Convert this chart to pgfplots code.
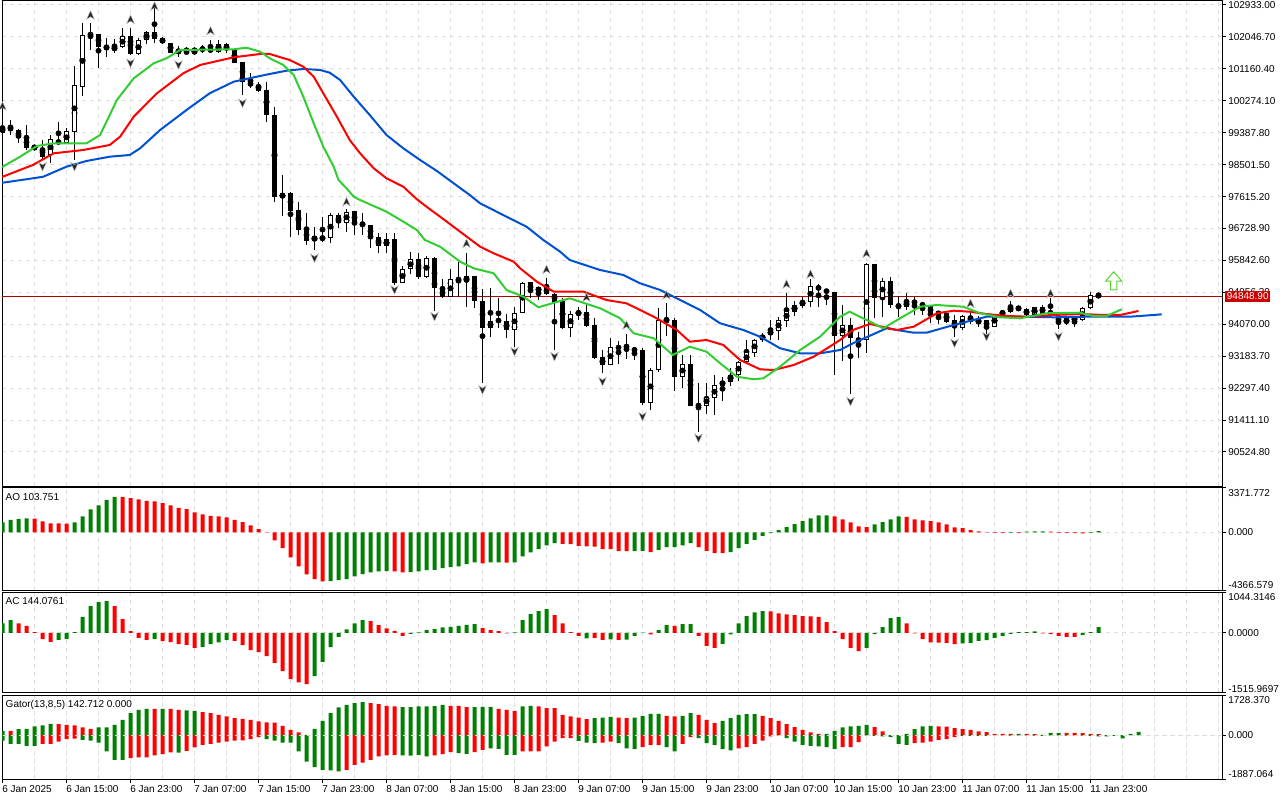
\documentclass[border=0pt]{standalone}
\usepackage{fontspec}
\setmainfont{Liberation Sans}
\usepackage{pgfplots}
\usepackage{pgfplotstable}
\pgfplotsset{compat=1.18}
\newcommand\lbl{\fontsize{7.5}{9}\selectfont}
\definecolor{mtgreen}{RGB}{0,128,0}
\definecolor{mtred}{RGB}{255,0,0}
\definecolor{jaw}{RGB}{0,80,210}
\definecolor{teeth}{RGB}{255,0,0}
\definecolor{lips}{RGB}{50,205,50}
\definecolor{gridc}{RGB}{222,222,222}
\definecolor{pline}{RGB}{180,0,0}
\definecolor{pbox}{RGB}{204,0,0}
\definecolor{buyg}{RGB}{90,210,50}

\pgfdeclareplotmark{fup}{%
 \pgfpathmoveto{\pgfqpoint{0pt}{\pgfplotmarksize}}%
 \pgfpathlineto{\pgfqpoint{0.9\pgfplotmarksize}{-\pgfplotmarksize}}%
 \pgfpathlineto{\pgfqpoint{0pt}{-0.4\pgfplotmarksize}}%
 \pgfpathlineto{\pgfqpoint{-0.9\pgfplotmarksize}{-\pgfplotmarksize}}%
 \pgfpathclose\pgfusepathqfillstroke}
\pgfdeclareplotmark{fdown}{%
 \pgfpathmoveto{\pgfqpoint{0pt}{-\pgfplotmarksize}}%
 \pgfpathlineto{\pgfqpoint{0.9\pgfplotmarksize}{\pgfplotmarksize}}%
 \pgfpathlineto{\pgfqpoint{0pt}{0.4\pgfplotmarksize}}%
 \pgfpathlineto{\pgfqpoint{-0.9\pgfplotmarksize}{\pgfplotmarksize}}%
 \pgfpathclose\pgfusepathqfillstroke}
\pgfdeclareplotmark{buyarrow}{%
 \pgfpathmoveto{\pgfqpoint{0pt}{1.15\pgfplotmarksize}}%
 \pgfpathlineto{\pgfqpoint{\pgfplotmarksize}{0pt}}%
 \pgfpathlineto{\pgfqpoint{0.4\pgfplotmarksize}{0pt}}%
 \pgfpathlineto{\pgfqpoint{0.4\pgfplotmarksize}{-1.1\pgfplotmarksize}}%
 \pgfpathlineto{\pgfqpoint{-0.4\pgfplotmarksize}{-1.1\pgfplotmarksize}}%
 \pgfpathlineto{\pgfqpoint{-0.4\pgfplotmarksize}{0pt}}%
 \pgfpathlineto{\pgfqpoint{-\pgfplotmarksize}{0pt}}%
 \pgfpathclose\pgfusepathqfillstroke}

\pgfplotstableread{
k O H L C
0 99388 99685 99352 99538
1 99547 99741 99333 99455
2 99463 99483 99111 99249
3 99269 99594 98908 98972
4 98972 99019 98936 98986
5 98972 99186 98630 98722
6 98769 99324 98547 99205
7 99186 99694 99047 99075
8 99094 99519 99075 99427
9 99416 101240 98630 100712
10 100665 102442 100407 102100
11 102136 102442 101684 102092
12 102136 102136 101193 101776
13 101795 102025 101498 101703
14 101703 101981 101592 101759
15 101759 102286 101731 102073
16 102081 102286 101545 101565
17 101573 102009 101545 101953
18 101962 102211 101851 102184
19 102175 102933 101870 101998
20 102017 102053 101842 101870
21 101887 101887 101592 101609
22 101684 101795 101490 101620
23 101665 101776 101573 101592
24 101592 101776 101573 101684
25 101740 101823 101592 101684
26 101731 101962 101592 101637
27 101637 101962 101592 101851
28 101859 101870 101609 101684
29 101712 101731 101315 101331
30 101359 101359 100435 100804
31 100804 101037 100621 100685
32 100712 100804 100526 100554
33 100574 100804 99694 99880
34 99880 100093 97456 97612
35 97595 98214 97076 97687
36 97706 97750 96501 97223
37 97242 97473 96548 96687
38 96707 97151 96271 96390
39 96410 96779 96132 96485
40 96446 97040 96362 96474
41 96457 97151 96335 97104
42 97104 97151 96734 96890
43 96890 97262 96640 97195
44 97223 97223 96548 96846
45 96862 97151 96548 96818
46 96826 96826 96179 96485
47 96501 96596 96057 96251
48 96243 96612 96040 96429
49 96429 96612 95160 95224
50 95224 95688 95207 95596
51 95596 96085 95466 95874
52 95874 96057 95319 95374
53 95374 95965 95346 95902
54 95902 95929 94447 95069
55 95069 95327 94791 94819
56 94819 95596 94819 95319
57 95327 95807 94819 95235
58 95235 96040 94558 95419
59 95419 95419 94514 94725
60 94725 95050 92432 93958
61 93958 95069 93709 94169
62 94189 94791 93958 94161
63 94169 94355 93681 93911
64 93911 94541 93448 94391
65 94391 95252 94375 95224
66 95235 95235 94791 94975
67 94975 95113 94744 95097
68 95097 95346 94883 94911
69 94911 94930 93356 94697
70 94744 94791 93931 93958
71 93958 94447 93725 94355
72 94355 94558 94189 94419
73 94419 94661 94003 94031
74 94050 94236 93106 93142
75 93153 93356 92709 92940
76 92940 93681 92940 93431
77 93448 93614 92968 93403
78 93403 93800 93106 93356
79 93384 93448 93078 93337
80 93356 93403 91829 91893
81 91893 92848 91690 92801
82 92801 94514 92754 94189
83 94189 94652 93745 94161
84 94189 94236 92226 92615
85 92615 93217 92309 92959
86 92968 93217 91810 91810
87 91829 92432 91088 91801
88 91810 92432 91579 92060
89 92015 92662 91551 92384
90 92365 92615 91949 92496
91 92476 92848 92357 92662
92 92662 93059 92504 93015
93 93015 93634 92987 93292
94 93281 93653 93170 93634
95 93634 93836 93586 93772
96 93772 94189 93634 93911
97 93892 94280 93634 94189
98 94169 94930 94003 94439
99 94419 94725 94300 94605
100 94586 94836 94514 94716
101 94697 95319 94558 95133
102 95141 95188 94558 95022
103 95022 95041 94605 94958
104 94975 94975 92662 93753
105 93753 94605 93059 94050
106 94050 94236 92135 93681
107 93681 93864 93126 93586
108 93634 95763 93264 95743
109 95743 95743 94236 94791
110 94791 95346 94280 95280
111 95280 95391 94514 94605
112 94605 94855 94280 94558
113 94558 94930 94466 94697
114 94716 94836 94328 94652
115 94669 94697 94328 94558
116 94577 94605 94097 94355
117 94391 94447 94078 94355
118 94375 94447 94097 94142
119 94189 94328 93725 93986
120 93975 94328 93911 94300
121 94300 94411 94078 94125
122 94125 94300 93986 94189
123 94189 94189 93800 93986
124 93986 94355 93986 94355
125 94328 94466 94264 94447
126 94419 94725 94375 94558
127 94558 94577 94447 94466
128 94494 94514 94300 94328
129 94328 94558 94300 94558
130 94558 94605 94328 94355
131 94411 94791 94355 94375
132 94300 94328 93931 94097
133 94097 94264 94050 94236
134 94189 94280 94003 94236
135 94189 94558 94161 94514
136 94514 94975 94494 94883
137 94883 94930 94819 94849
}\candles

\pgfplotstableread{
k v c
0 759 1
1 961 1
2 1037 1
3 1063 1
4 1050 0
5 835 0
6 683 0
7 680 0
8 675 0
9 759 1
10 1214 1
11 1746 1
12 2049 1
13 2479 1
14 2707 1
15 2700 0
16 2606 0
17 2505 0
18 2404 0
19 2353 0
20 2226 0
21 2049 0
22 1872 0
23 1771 0
24 1518 0
25 1366 0
26 1265 0
27 1214 0
28 1138 0
29 961 0
30 784 0
31 531 0
32 253 0
33 30 0
34 -607 0
35 -1189 0
36 -1897 0
37 -2581 0
38 -3188 0
39 -3542 0
40 -3719 0
41 -3694 1
42 -3618 1
43 -3542 1
44 -3340 1
45 -3163 1
46 -3036 1
47 -2960 1
48 -2935 1
49 -2945 0
50 -3036 0
51 -3010 1
52 -2960 1
53 -2859 1
54 -2834 1
55 -2707 1
56 -2631 1
57 -2581 1
58 -2404 1
59 -2277 1
60 -2353 0
61 -2277 1
62 -2265 1
63 -2290 0
64 -2275 1
65 -1822 1
66 -1518 1
67 -1265 1
68 -987 1
69 -810 1
70 -860 0
71 -885 0
72 -1012 0
73 -1063 0
74 -1070 0
75 -1265 0
76 -1270 0
77 -1417 0
78 -1420 0
79 -1410 1
80 -1400 1
81 -1493 0
82 -1316 1
83 -1113 1
84 -1105 1
85 -987 1
86 -810 1
87 -1113 0
88 -1392 0
89 -1569 0
90 -1575 0
91 -1493 1
92 -1189 1
93 -860 1
94 -557 1
95 -253 1
96 -50 1
97 177 1
98 405 1
99 633 1
100 860 1
101 1063 1
102 1290 1
103 1300 1
104 1214 0
105 987 0
106 759 0
107 455 0
108 405 0
109 607 1
110 784 1
111 987 1
112 1214 1
113 1189 0
114 987 0
115 911 0
116 860 0
117 759 0
118 607 0
119 380 0
120 329 0
121 177 0
122 76 0
123 30 0
124 -40 0
125 -60 0
126 -30 1
127 -50 0
128 60 1
129 80 1
130 90 1
131 60 0
132 -40 0
133 -50 0
134 -60 0
135 -70 0
136 -30 1
137 103.751 1
}\aotab

\pgfplotstableread{
k v c
0 239 1
1 324 1
2 239 0
3 179 0
4 17 0
5 -162 0
6 -230 0
7 -179 1
8 -162 1
9 17 1
10 409 1
11 682 1
12 785 1
13 810 1
14 682 0
15 350 0
16 43 0
17 -128 0
18 -179 0
19 -162 1
20 -213 0
21 -239 0
22 -290 0
23 -307 0
24 -384 0
25 -358 1
26 -290 1
27 -247 1
28 -179 1
29 -205 0
30 -316 0
31 -444 0
32 -495 0
33 -597 0
34 -768 0
35 -981 0
36 -1186 0
37 -1271 0
38 -1314 0
39 -1109 1
40 -742 1
41 -367 1
42 -102 1
43 85 1
44 239 1
45 324 1
46 299 0
47 196 0
48 111 0
49 51 0
50 -77 0
51 -26 1
52 9 1
53 68 1
54 94 1
55 136 1
56 154 1
57 179 1
58 205 1
59 222 1
60 119 0
61 68 0
62 43 0
63 -15 0
64 10 1
65 324 1
66 478 1
67 554 1
68 606 1
69 452 0
70 239 0
71 17 0
72 -77 0
73 -145 1
74 -128 0
75 -179 0
76 -170 1
77 -180 0
78 -175 1
79 -77 1
80 5 1
81 -43 0
82 68 1
83 196 1
84 179 0
85 222 1
86 225 1
87 -77 0
88 -333 0
89 -384 0
90 -282 1
91 -43 1
92 239 1
93 427 1
94 520 1
95 554 1
96 550 0
97 495 0
98 469 0
99 452 0
100 427 0
101 420 0
102 409 0
103 273 0
104 43 0
105 -162 0
106 -384 0
107 -469 0
108 -384 1
109 -34 1
110 145 1
111 375 1
112 401 1
113 239 0
114 -17 0
115 -162 0
116 -247 0
117 -250 0
118 -256 0
119 -290 0
120 -273 1
121 -256 1
122 -205 1
123 -188 1
124 -128 1
125 -77 1
126 -26 1
127 17 1
128 20 1
129 34 1
130 -17 0
131 -34 0
132 -77 0
133 -102 0
134 -105 0
135 -60 1
136 17 1
137 144.0761 1
}\actab

\pgfplotstableread{
k u uc d dc
0 187 1 -230 1
1 180 0 -373 1
2 258 1 -380 1
3 273 1 -459 1
4 373 1 -465 1
5 416 1 -373 0
6 488 1 -370 0
7 480 0 -273 0
8 445 0 -172 0
9 416 0 -144 0
10 330 0 -201 1
11 273 0 -230 1
12 330 1 -316 1
13 335 1 -703 1
14 445 1 -1062 1
15 660 1 -1065 1
16 947 1 -990 0
17 1091 1 -961 0
18 1134 1 -955 0
19 1130 0 -875 0
20 1134 1 -818 0
21 1130 0 -746 0
22 1091 0 -750 1
23 1062 1 -674 0
24 1048 1 -531 0
25 990 0 -416 0
26 947 0 -373 0
27 875 0 -316 0
28 804 0 -273 0
29 732 0 -230 0
30 703 0 -225 0
31 660 0 -172 0
32 588 0 -86 0
33 545 0 -172 1
34 540 0 -230 1
35 402 0 -316 1
36 230 0 -320 1
37 115 0 -703 1
38 10 0 -1134 1
39 273 1 -1378 1
40 617 1 -1492 1
41 947 1 -1521 1
42 1191 1 -1564 1
43 1306 1 -1492 0
44 1378 1 -1277 0
45 1421 1 -1177 0
46 1378 0 -1062 0
47 1335 0 -918 0
48 1263 0 -875 0
49 1234 0 -847 0
50 1205 1 -875 1
51 1210 1 -880 1
52 1234 1 -847 1
53 1240 1 -918 1
54 1245 1 -875 0
55 1306 1 -818 0
56 1263 0 -732 0
57 1260 0 -775 1
58 1205 0 -804 1
59 1210 1 -732 0
60 1215 1 -631 0
61 1220 1 -570 1
62 1134 0 -588 1
63 1091 0 -847 1
64 1048 0 -850 1
65 1234 1 -703 0
66 1263 1 -700 0
67 1234 0 -700 0
68 1162 0 -488 0
69 1160 0 -273 0
70 875 0 -129 0
71 804 0 -125 0
72 760 0 -244 1
73 689 0 -316 1
74 732 1 -344 1
75 760 1 -316 0
76 789 1 -273 0
77 760 0 -344 1
78 732 0 -574 1
79 760 1 -603 1
80 832 1 -517 0
81 918 1 -430 0
82 920 1 -425 0
83 832 0 -517 1
84 804 0 -703 1
85 832 1 -373 0
86 947 1 -86 0
87 875 0 -129 1
88 660 0 -344 1
89 517 0 -430 1
90 617 1 -603 1
91 732 1 -660 1
92 875 1 -574 0
93 904 1 -517 0
94 910 1 -373 0
95 832 0 -230 0
96 732 0 -57 0
97 617 0 -10 0
98 474 0 -129 1
99 344 0 -273 1
100 230 0 -416 1
101 115 0 -459 1
102 57 0 -488 1
103 60 1 -517 1
104 187 1 -603 1
105 330 1 -517 0
106 373 1 -510 0
107 402 1 -301 0
108 445 1 -14 0
109 344 0 -29 1
110 158 0 -57 1
111 5 0 -86 1
112 0 0 -373 1
113 57 1 -416 1
114 258 1 -344 0
115 373 1 -316 0
116 402 1 -273 0
117 373 0 -201 0
118 370 0 -172 0
119 301 0 -86 0
120 258 0 -29 1
121 230 0 -30 1
122 158 0 -30 1
123 129 0 -30 1
124 57 0 0 1
125 55 0 -10 0
126 50 0 -15 1
127 55 1 -10 0
128 50 0 -10 1
129 43 0 -15 1
130 10 0 -29 1
131 100 1 -10 1
132 102 1 -10 0
133 100 0 -15 1
134 98 0 -10 0
135 86 0 -15 1
136 57 0 -29 1
137 43 0 -57 1
138 0 0 -57 1
139 0 0 -29 1
140 0 0 -143 1
141 57 1 0 1
142 142.712 1 0 1
}\gatortab

\pgfplotsset{
 mtpanel/.style={
  scale only axis, width=915pt, xmin=-0.0625, xmax=152.4375,
  axis line style={line width=0.75pt, black},
  xtick={-0.0625,7.9375,...,135.9375},
  minor xtick={-0.0625,3.9375,...,151.9375},
  xminorgrids, xmajorgrids=false,
  minor grid style={gridc, dash pattern=on 3pt off 3pt, line width=0.75pt},
  major grid style={gridc, dash pattern=on 3pt off 3pt, line width=0.75pt},
  xticklabels={},
  xtick style={draw=none},
  minor tick length=0pt,
  ytick pos=right, yticklabel pos=right,
  tick align=outside, major tick length=3pt,
  ytick style={draw=black, line width=0.75pt},
  tick label style={font=\lbl},
  yticklabel style={anchor=west, inner sep=0pt, xshift=1.5pt},
  clip mode=individual,
 },
 candle/.style={only marks, mark=none, error bars/.cd, y dir=both, y explicit, error mark=none},
}

\begin{document}
\begin{tikzpicture}[font=\lbl]
\useasboundingbox (0,0) rectangle (960pt,600pt);

% ---------- main chart ----------
\begin{axis}[mtpanel, at={(1.5pt,235.5pt)}, anchor=south west, height=363.75pt,
  ymin=89580.6, ymax=103044.2,
  ytick={102933,102046.7,101160.4,100274.1,99387.8,98501.5,97615.2,96728.9,95842.6,94956.3,94070,93183.7,92297.4,91411.1,90524.8},
  yticklabels={102933.00,102046.70,101160.40,100274.10,99387.80,98501.50,97615.20,96728.90,95842.60,94956.30,94070.00,93183.70,92297.40,91411.10,90524.80},
  ymajorgrids]
\addplot[pline, line width=0.75pt] coordinates {(-1,94848.9) (153,94848.9)};
\addplot[candle, error bar style={draw=black, line width=0.75pt}]
  table[x=k, y expr={(\thisrow{H}+\thisrow{L})/2}, y error expr={(\thisrow{H}-\thisrow{L})/2}] {\candles};
\addplot[candle, error bar style={draw=black, line width=3.75pt}]
  table[x=k, y expr={(\thisrow{O}+\thisrow{C})/2}, y error expr={max(abs(\thisrow{O}-\thisrow{C})/2,14)}] {\candles};
\addplot[candle, error bar style={draw=white, line width=2.25pt}]
  table[x=k, y expr={\thisrow{C}>\thisrow{O} ? (\thisrow{O}+\thisrow{C})/2 : nan}, y error expr={max((\thisrow{C}-\thisrow{O})/2-27.76,0)}] {\candles};
% Alligator
\addplot[jaw, line width=1.5pt] coordinates {(-0.1,98000) (0.03,98000) (3.8,98122) (5.1,98167) (8.0,98444) (10.5,98603) (13.4,98722) (15.9,98769) (17.2,98955) (19.7,99463) (23.0,100018) (25.9,100482) (28.9,100804) (32.2,100962) (33.4,101018) (35.5,101109) (37.6,101157) (39.7,101129) (40.9,101054) (42.2,100851) (43.9,100388) (45.9,99880) (48.0,99324) (50.1,98955) (52.2,98630) (54.3,98325) (56.4,97983) (58.4,97659) (59.7,97428) (63.0,97056) (65.5,96779) (67.6,96410) (69.7,96085) (70.9,95854) (74.7,95577) (77.6,95438) (79.7,95207) (82.2,95022) (84.7,94744) (87.2,94466) (89.7,94097) (92.6,93911) (94.7,93725) (97.2,93403) (99.7,93264) (102.2,93264) (104.7,93356) (106.3,93542) (110.5,93958) (113.9,93836) (115.5,93836) (118.9,94050) (123.0,94280) (127.2,94280) (131.4,94264) (135.5,94280) (138.4,94280) (140.9,94280) (143.9,94328) (144.9,94347)};
\addplot[teeth, line width=1.5pt] coordinates {(-0.1,98167) (0.03,98167) (3.8,98492) (6.4,98816) (10.1,98908) (13.4,99047) (14.7,99277) (16.4,99832) (19.3,100482) (22.6,101037) (24.7,101268) (28.9,101481) (32.2,101573) (33.4,101573) (35.9,101406) (37.6,101220) (38.9,100943) (40.1,100482) (41.8,99832) (43.4,99186) (44.7,98816) (46.4,98400) (48.0,98122) (50.1,97889) (51.8,97540) (53.0,97334) (54.7,97056) (57.2,96640) (59.7,96224) (61.4,96040) (63.9,95807) (64.7,95624) (66.8,95252) (68.9,94975) (72.6,94975) (75.5,94744) (78.0,94652) (81.4,94280) (84.3,93911) (85.9,93586) (88.0,93634) (90.1,93495) (92.2,93078) (94.7,92820) (96.4,92801) (98.9,92940) (101.4,93170) (103.4,93448) (104.7,93634) (106.3,93911) (108.4,94078) (111.8,93911) (113.9,94003) (116.8,94375) (118.9,94447) (120.9,94419) (123.0,94355) (125.5,94300) (128.0,94280) (131.4,94328) (134.7,94355) (137.6,94328) (139.7,94328) (142.0,94439)};
\addplot[lips, line width=1.5pt] coordinates {(-0.1,98444) (0.03,98444) (2.2,98722) (4.3,99019) (6.4,99094) (10.5,99094) (12.2,99324) (14.3,100296) (16.4,100898) (18.9,101315) (20.5,101454) (22.2,101684) (28.9,101703) (30.5,101748) (32.2,101637) (33.4,101454) (35.1,101268) (36.4,100990) (37.6,100388) (38.9,99649) (40.1,99000) (41.4,98444) (42.0,98075) (43.0,97845) (43.9,97612) (44.5,97540) (48.0,97195) (50.1,96918) (51.8,96687) (52.8,96410) (54.7,96224) (57.2,95807) (58.9,95624) (61.4,95485) (63.0,95022) (65.1,94836) (67.0,94541) (68.4,94633) (70.9,94791) (74.7,94514) (77.2,94236) (78.9,93819) (81.4,93681) (83.8,93217) (85.9,93448) (88.0,93309) (89.7,92987) (91.8,92615) (93.9,92543) (95.1,92570) (97.2,92893) (99.7,93356) (102.2,93725) (104.7,94280) (105.9,94419) (108.0,94189) (110.1,93958) (112.2,94236) (114.7,94558) (116.8,94605) (120.1,94558) (122.2,94375) (124.7,94264) (127.2,94236) (130.5,94375) (134.7,94391) (136.3,94300) (138.0,94300) (139.9,94486)};
% Fractals
\addplot[only marks, mark=fup, mark size=3.2pt, mark options={fill=black!85, draw=gray!60, line width=0.3pt}] coordinates {(0,100129) (11,102656) (16,102536) (19,102905) (26,102220) (43,97473) (58,96318) (68,95596) (73,94819) (78,94050) (83,94883) (98,95188) (101,95466) (108,96040) (121,94652) (126,94930) (131,94930)};
\addplot[only marks, mark=fdown, mark size=3.2pt, mark options={fill=black!85, draw=gray!60, line width=0.3pt}] coordinates {(5,98444) (9,98444) (16,101315) (22,101268) (30,100204) (39,95902) (49,95022) (54,94280) (60,92246) (64,93309) (69,93170) (75,92476) (80,91505) (87,90905) (106,91921) (119,93542) (123,93725) (132,93725)};
\addplot[only marks, mark=buyarrow, mark size=6pt, mark options={draw=buyg, fill=white, line width=0.75pt}] coordinates {(138.9,95271)};
\node[anchor=west, fill=pbox, text=white, inner xsep=1.2pt, inner ysep=0pt, minimum height=8pt, font=\lbl, xshift=2.25pt] at ({rel axis cs:1,0}|-{axis cs:0,94848.9}) {94848.90};
\end{axis}

% ---------- AO ----------
\begin{axis}[mtpanel, at={(1.5pt,157.5pt)}, anchor=south west, height=76.5pt,
  ymin=-4366.579, ymax=3371.772, ytick={-4366.579,0,3371.772}, yticklabels={,0.000,}, ymajorgrids]
\addplot[ybar, bar width=3pt, bar shift=0pt, fill=mtgreen, draw=none] table[x=k, y expr={\thisrow{c}==1 ? \thisrow{v} : nan}] {\aotab};
\addplot[ybar, bar width=3pt, bar shift=0pt, fill=mtred, draw=none] table[x=k, y expr={\thisrow{c}==0 ? \thisrow{v} : nan}] {\aotab};
\node[anchor=north west, inner sep=0pt] at ([xshift=2.6pt,yshift=-3.6pt]rel axis cs:0,1) {AO 103.751};
\node[anchor=west, inner sep=0pt] at ([xshift=4.5pt,yshift=-3.75pt]rel axis cs:1,1) {3371.772};
\node[anchor=west, inner sep=0pt] at ([xshift=4.5pt,yshift=3.75pt]rel axis cs:1,0) {-4366.579};
\end{axis}

% ---------- AC ----------
\begin{axis}[mtpanel, at={(1.5pt,81pt)}, anchor=south west, height=75pt,
  ymin=-1515.9697, ymax=1044.3146, ytick={-1515.9697,0,1044.3146}, yticklabels={,0.0000,}, ymajorgrids]
\addplot[ybar, bar width=3pt, bar shift=0pt, fill=mtgreen, draw=none] table[x=k, y expr={\thisrow{c}==1 ? \thisrow{v} : nan}] {\actab};
\addplot[ybar, bar width=3pt, bar shift=0pt, fill=mtred, draw=none] table[x=k, y expr={\thisrow{c}==0 ? \thisrow{v} : nan}] {\actab};
\node[anchor=north west, inner sep=0pt] at ([xshift=2.6pt,yshift=-3.6pt]rel axis cs:0,1) {AC 144.0761};
\node[anchor=west, inner sep=0pt] at ([xshift=4.5pt,yshift=-3.5pt]rel axis cs:1,1) {1044.3146};
\node[anchor=west, inner sep=0pt] at ([xshift=4.5pt,yshift=2.5pt]rel axis cs:1,0) {-1515.9697};
\end{axis}

% ---------- Gator ----------
\begin{axis}[mtpanel, at={(1.5pt,15.75pt)}, anchor=south west, height=63pt,
  ymin=-1887.064, ymax=1728.370, ytick={-1887.064,0,1728.370}, yticklabels={,0.000,}, ymajorgrids,
  xtick pos=left, xtick style={draw=black, line width=0.75pt},
  xticklabels={6 Jan 2025,6 Jan 15:00,6 Jan 23:00,7 Jan 07:00,7 Jan 15:00,7 Jan 23:00,8 Jan 07:00,8 Jan 15:00,8 Jan 23:00,9 Jan 07:00,9 Jan 15:00,9 Jan 23:00,10 Jan 07:00,10 Jan 15:00,10 Jan 23:00,11 Jan 07:00,11 Jan 15:00,11 Jan 23:00},
  xticklabel style={anchor=north west, inner sep=0pt, yshift=-1.5pt}]
\addplot[ybar, bar width=3pt, bar shift=0pt, fill=mtgreen, draw=none] table[x=k, y expr={\thisrow{uc}==1 ? \thisrow{u} : nan}] {\gatortab};
\addplot[ybar, bar width=3pt, bar shift=0pt, fill=mtred, draw=none] table[x=k, y expr={\thisrow{uc}==0 ? \thisrow{u} : nan}] {\gatortab};
\addplot[ybar, bar width=3pt, bar shift=0pt, fill=mtgreen, draw=none] table[x=k, y expr={\thisrow{dc}==1 ? \thisrow{d} : nan}] {\gatortab};
\addplot[ybar, bar width=3pt, bar shift=0pt, fill=mtred, draw=none] table[x=k, y expr={\thisrow{dc}==0 ? \thisrow{d} : nan}] {\gatortab};
\addplot[gridc, dash pattern=on 3pt off 3pt, line width=0.75pt] coordinates {(-1,0) (153,0)};
\node[anchor=north west, inner sep=0pt] at ([xshift=2.6pt,yshift=-3.6pt]rel axis cs:0,1) {Gator(13,8,5) 142.712 0.000};
\node[anchor=west, inner sep=0pt] at ([xshift=4.5pt,yshift=-3.75pt]rel axis cs:1,1) {1728.370};
\node[anchor=west, inner sep=0pt] at ([xshift=4.5pt,yshift=3.75pt]rel axis cs:1,0) {-1887.064};
\end{axis}
\end{tikzpicture}
\end{document}
